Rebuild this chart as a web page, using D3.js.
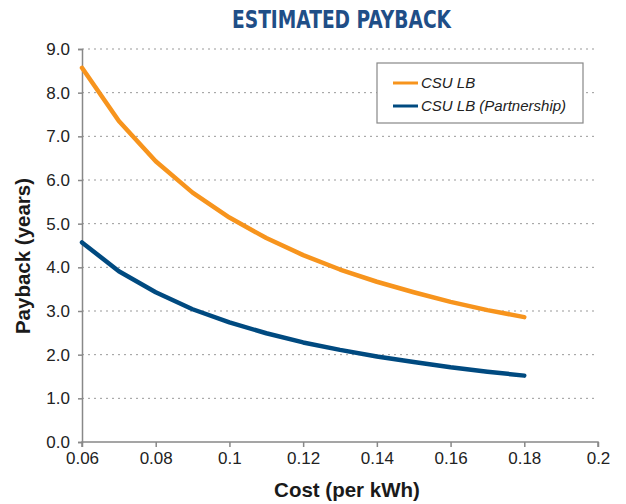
<!DOCTYPE html>
<html>
<head>
<meta charset="utf-8">
<script src="https://cdn.jsdelivr.net/npm/d3@7"></script>
<style>
  body { margin: 0; background: #fff; }
  svg { display: block; font-family: "Liberation Sans", Arial, sans-serif; }
  .title { font-family: "Liberation Sans Narrow", "DejaVu Sans Condensed", sans-serif; font-weight: bold; font-size: 24px; fill: #1f4e87; }
  .axis-label { font-family: "Liberation Sans", Arial, sans-serif; font-weight: bold; font-size: 20.5px; fill: #1a1a1a; }
  .tick text { font-family: "Liberation Sans", Arial, sans-serif; font-size: 17px; fill: #222; }
  .legend text { font-family: "Liberation Sans", Arial, sans-serif; font-style: italic; font-size: 15px; fill: #222; }
</style>
</head>
<body>
<svg width="626" height="504"></svg>
<script>
const width = 626;
const height = 504;
const margin = { top: 49, right: 28, bottom: 62, left: 82 };
const innerWidth = width - margin.left - margin.right;
const innerHeight = height - margin.top - margin.bottom;

// cost per kWh
const costs = [0.06, 0.07, 0.08, 0.09, 0.10, 0.11, 0.12, 0.13, 0.14, 0.15, 0.16, 0.17, 0.18];
// payback in years
const csuLB = [8.57, 7.35, 6.43, 5.71, 5.14, 4.67, 4.28, 3.95, 3.67, 3.43, 3.21, 3.02, 2.86];
const csuLBPartner = [4.57, 3.91, 3.43, 3.04, 2.74, 2.49, 2.28, 2.11, 1.96, 1.83, 1.71, 1.61, 1.52];

const xTicks = [0.06, 0.08, 0.1, 0.12, 0.14, 0.16, 0.18, 0.2];
const yTicks = [0, 1, 2, 3, 4, 5, 6, 7, 8, 9];

const seriesNames = ['CSU LB', 'CSU LB (Partnership)'];
const seriesColors = ['#f7941d', '#004a80'];

const svg = d3.select('svg');

const xScale = d3.scaleLinear().domain([0.06, 0.2]).range([0, innerWidth]);
const yScale = d3.scaleLinear().domain([0, 9]).range([innerHeight, 0]);

const g = svg.append('g')
  .attr('transform', `translate(${margin.left}, ${margin.top})`);

// grid lines
g.append('g')
  .selectAll('line')
  .data(yTicks.filter(d => d > 0))
  .enter().append('line')
  .attr('x1', 0)
  .attr('x2', innerWidth)
  .attr('y1', d => yScale(d))
  .attr('y2', d => yScale(d))
  .attr('stroke', '#999')
  .attr('stroke-width', 1)
  .attr('stroke-dasharray', '2,4');

// y axis
const yAxisG = g.append('g')
  .call(d3.axisLeft(yScale).tickValues(yTicks).tickFormat(d3.format('.1f')).tickSize(4).tickPadding(8));
yAxisG.selectAll('.domain, .tick line').attr('stroke', '#888').attr('stroke-width', 1.5);

// x axis
const xAxisG = g.append('g')
  .attr('transform', `translate(0, ${innerHeight})`)
  .call(d3.axisBottom(xScale).tickValues(xTicks).tickFormat(d => String(+d.toFixed(2))).tickSize(5).tickPadding(5));
xAxisG.selectAll('.domain, .tick line').attr('stroke', '#888').attr('stroke-width', 1.5);
xAxisG.select('.domain').attr('d', `M0,5V0H${innerWidth}V5`);

// lines
const line = d3.line()
  .x((d, i) => xScale(costs[i]))
  .y(d => yScale(d));

[csuLB, csuLBPartner].forEach((values, i) => {
  g.append('path')
    .datum(values)
    .attr('fill', 'none')
    .attr('stroke', seriesColors[i])
    .attr('stroke-width', 4.5)
    .attr('stroke-linecap', 'round')
    .attr('stroke-linejoin', 'round')
    .attr('d', line);
});

// title
svg.append('text')
  .attr('class', 'title')
  .attr('x', 341.5)
  .attr('y', 28)
  .attr('text-anchor', 'middle')
  .attr('textLength', 219)
  .attr('lengthAdjust', 'spacingAndGlyphs')
  .text('ESTIMATED PAYBACK');

// axis labels
svg.append('text')
  .attr('class', 'axis-label')
  .attr('x', 347)
  .attr('y', 497)
  .attr('text-anchor', 'middle')
  .text('Cost (per kWh)');

svg.append('text')
  .attr('class', 'axis-label')
  .attr('transform', `translate(29.5, 256) rotate(-90)`)
  .attr('text-anchor', 'middle')
  .text('Payback (years)');

// legend
const legend = svg.append('g')
  .attr('class', 'legend')
  .attr('transform', 'translate(377, 63)');

legend.append('rect')
  .attr('width', 206)
  .attr('height', 60)
  .attr('fill', '#fff')
  .attr('stroke', '#888')
  .attr('stroke-width', 1.2);

seriesNames.forEach((name, i) => {
  const row = legend.append('g')
    .attr('transform', `translate(16, ${20 + i * 23})`);
  row.append('line')
    .attr('x1', 0)
    .attr('x2', 25)
    .attr('stroke', seriesColors[i])
    .attr('stroke-width', 3);
  row.append('text')
    .attr('x', 28)
    .attr('dy', '0.35em')
    .text(name);
});
</script>
</body>
</html>
